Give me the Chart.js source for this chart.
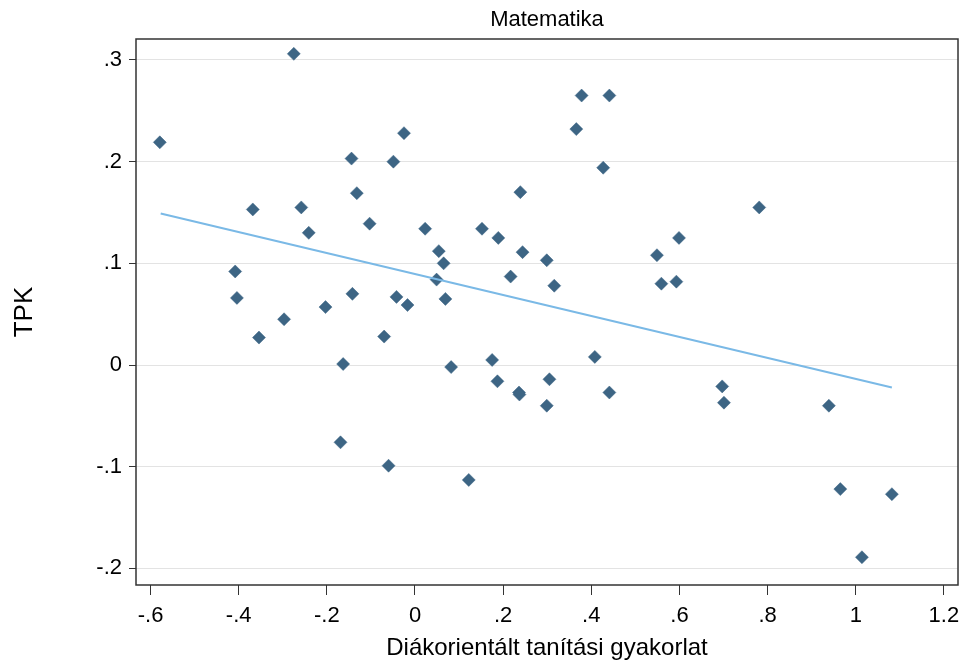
<!DOCTYPE html>
<html>
<head>
<meta charset="utf-8">
<script src="https://cdn.jsdelivr.net/npm/chart.js@4/dist/chart.umd.min.js"></script>
<style>
  html, body { margin: 0; padding: 0; background: #ffffff; }
  #wrap { width: 962px; height: 666px; }
</style>
</head>
<body>
<div id="wrap"><canvas id="c" width="962" height="666"></canvas></div>
<script>
// Scatter data
const xValues = [-0.579, -0.275, -0.368, -0.258, -0.241, -0.408, -0.404, -0.297, -0.203, -0.144,
                 -0.132, -0.103, -0.142, -0.049, -0.025, -0.042, -0.017, 0.023, 0.054, 0.065,
                 0.049, 0.069, 0.152, 0.378, 0.441, 0.366, 0.427, 0.239, 0.189, 0.244,
                 0.299, 0.217, 0.316, 0.549, 0.599, 0.559, 0.593, 0.781, -0.354, -0.070,
                 -0.163, 0.082, -0.169, -0.060, 0.122, 0.175, 0.187, 0.236, 0.237, 0.305,
                 0.299, 0.408, 0.441, 0.697, 0.701, 0.939, 0.965, 1.082, 1.014];
const yValues = [0.219, 0.306, 0.153, 0.155, 0.130, 0.092, 0.066, 0.045, 0.057, 0.203,
                 0.169, 0.139, 0.070, 0.200, 0.228, 0.067, 0.059, 0.134, 0.112, 0.100,
                 0.084, 0.065, 0.134, 0.265, 0.265, 0.232, 0.194, 0.170, 0.125, 0.111,
                 0.103, 0.087, 0.078, 0.108, 0.125, 0.080, 0.082, 0.155, 0.027, 0.028,
                 0.001, -0.002, -0.076, -0.099, -0.113, 0.005, -0.016, -0.027, -0.029, -0.014,
                 -0.040, 0.008, -0.027, -0.021, -0.037, -0.040, -0.122, -0.127, -0.189];
// Linear fit line endpoints
const fitX = [-0.577, 1.082];
const fitY = [0.149, -0.022];

const xTickValues = [-0.6, -0.4, -0.2, 0, 0.2, 0.4, 0.6, 0.8, 1, 1.2];
const xTickLabels = ['-.6', '-.4', '-.2', '0', '.2', '.4', '.6', '.8', '1', '1.2'];
const yTickValues = [-0.2, -0.1, 0, 0.1, 0.2, 0.3];
const yTickLabels = ['-.2', '-.1', '0', '.1', '.2', '.3'];

const titleText = 'Matematika';
const xTitle = 'Diákorientált tanítási gyakorlat';
const yTitle = 'TPK';

const FONT = 'Liberation Sans, Arial, Helvetica, sans-serif';

const scatterPts = xValues.map((x, i) => ({ x: x, y: yValues[i] }));
const fitPts = fitX.map((x, i) => ({ x: x, y: fitY[i] }));

const framePlugin = {
  id: 'frame',
  afterDraw(chart) {
    const a = chart.chartArea;
    const ctx = chart.ctx;
    ctx.save();
    ctx.strokeStyle = '#333333';
    ctx.lineWidth = 1.5;
    ctx.strokeRect(a.left, a.top, a.right - a.left, a.bottom - a.top);
    ctx.restore();
  }
};

new Chart(document.getElementById('c'), {
  type: 'scatter',
  data: {
    datasets: [
      {
        label: 'TPK',
        data: scatterPts,
        pointStyle: 'rectRot',
        pointRadius: 6.5,
        pointHoverRadius: 6.5,
        pointBackgroundColor: '#3d6584',
        pointBorderColor: '#3d6584',
        pointBorderWidth: 0.5,
        showLine: false,
        order: 2
      },
      {
        label: 'Fitted values',
        data: fitPts,
        showLine: true,
        borderColor: '#7ab9e6',
        borderWidth: 2,
        pointRadius: 0,
        pointHoverRadius: 0,
        fill: false,
        order: 1
      }
    ]
  },
  options: {
    responsive: false,
    animation: false,
    events: [],
    layout: { autoPadding: false, padding: { left: 0, right: 4, top: 0, bottom: 0 } },
    plugins: {
      legend: { display: false },
      tooltip: { enabled: false },
      title: {
        display: true,
        text: titleText,
        fullSize: false,
        color: '#000000',
        font: { family: FONT, size: 22, weight: 'normal', lineHeight: 1.2 },
        padding: { top: 7, bottom: 5.6 }
      }
    },
    scales: {
      x: {
        type: 'linear',
        min: -0.633,
        max: 1.232,
        afterBuildTicks(scale) { scale.ticks = xTickValues.map(v => ({ value: v })); },
        afterFit(scale) { scale.height = 81; },
        ticks: {
          color: '#000000',
          font: { family: FONT, size: 22, lineHeight: 1.9 },
          padding: 0,
          maxRotation: 0,
          autoSkip: false,
          callback(value) {
            const i = xTickValues.findIndex(v => Math.abs(v - value) < 1e-9);
            return i >= 0 ? xTickLabels[i] : '';
          }
        },
        grid: {
          drawOnChartArea: false,
          drawTicks: true,
          tickLength: 10,
          tickColor: '#333333',
          tickWidth: 1
        },
        border: { display: false },
        title: {
          display: true,
          text: xTitle,
          color: '#000000',
          font: { family: FONT, size: 24, lineHeight: 1.2 },
          padding: { top: 0, bottom: 3 }
        }
      },
      y: {
        type: 'linear',
        min: -0.2163,
        max: 0.3206,
        afterBuildTicks(scale) { scale.ticks = yTickValues.map(v => ({ value: v })); },
        afterFit(scale) { scale.width = 136; },
        ticks: {
          color: '#000000',
          font: { family: FONT, size: 22 },
          padding: 7,
          autoSkip: false,
          callback(value) {
            const i = yTickValues.findIndex(v => Math.abs(v - value) < 1e-9);
            return i >= 0 ? yTickLabels[i] : '';
          }
        },
        grid: {
          drawOnChartArea: true,
          color: '#e3e3e3',
          lineWidth: 1,
          drawTicks: true,
          tickLength: 7,
          tickColor: '#333333',
          tickWidth: 1
        },
        border: { display: false },
        title: {
          display: true,
          text: yTitle,
          color: '#000000',
          font: { family: FONT, size: 26, lineHeight: 1.2 },
          padding: { top: 9, bottom: 0 }
        }
      }
    }
  },
  plugins: [framePlugin]
});
</script>
</body>
</html>
